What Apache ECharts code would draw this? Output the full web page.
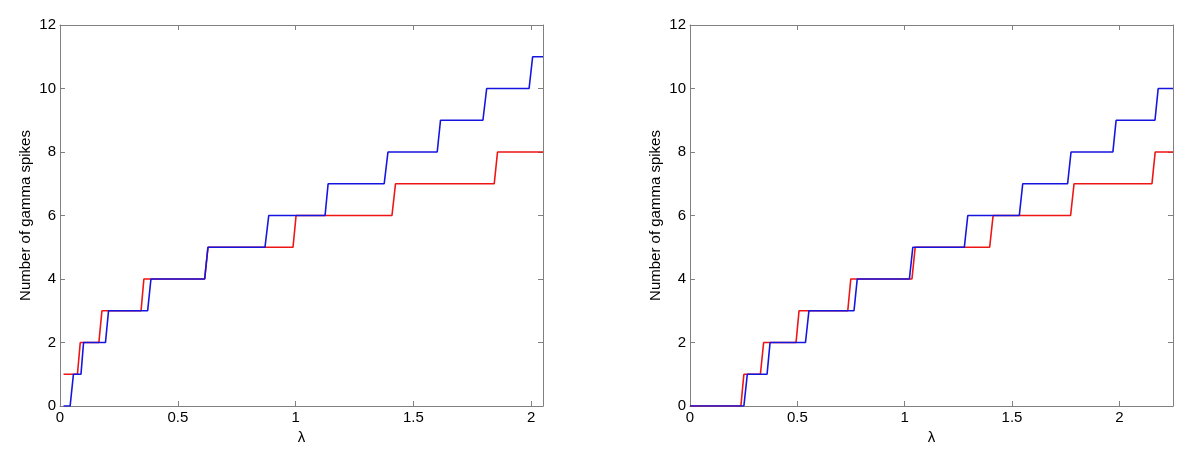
<!DOCTYPE html>
<html>
<head>
<meta charset="utf-8">
<script src="https://cdn.jsdelivr.net/npm/echarts@6/dist/echarts.min.js"></script>
<style>
html,body{margin:0;padding:0;background:#fff;}
#chart{width:1200px;height:456px;}
</style>
</head>
<body>
<div id="chart"></div>
<script>
// ---- Data (step vertices) ----
// Left panel
var leftRedX  = [0.015,0.074,0.086,0.165,0.178,0.344,0.356,0.614,0.628,0.989,1.002,1.409,1.424,1.843,1.857,2.05];
var leftRedY  = [1,1,2,2,3,3,4,4,5,5,6,6,7,7,8,8];
var leftBlueX = [0.015,0.043,0.057,0.089,0.1,0.193,0.206,0.372,0.386,0.614,0.628,0.87,0.886,1.125,1.138,1.376,1.392,1.601,1.615,1.795,1.811,1.991,2.006,2.05];
var leftBlueY = [0,0,1,1,2,2,3,3,4,4,5,5,6,6,7,7,8,8,9,9,10,10,11,11];
// Right panel
var rightRedX  = [0,0.237,0.251,0.328,0.343,0.494,0.508,0.735,0.749,1.034,1.049,1.396,1.412,1.773,1.789,2.152,2.167,2.25];
var rightRedY  = [0,0,1,1,2,2,3,3,4,4,5,5,6,6,7,7,8,8];
var rightBlueX = [0,0.251,0.267,0.359,0.373,0.538,0.554,0.764,0.779,1.022,1.038,1.278,1.294,1.534,1.55,1.759,1.775,1.97,1.985,2.166,2.181,2.25];
var rightBlueY = [0,0,1,1,2,2,3,3,4,4,5,5,6,6,7,7,8,8,9,9,10,10];
// Axis settings
var leftXMax = 2.05, rightXMax = 2.25;
var yMin = 0, yMax = 12, yStep = 2, xStep = 0.5;
var xName = 'λ';
var yName = 'Number of gamma spikes';

function pairs(xs, ys){ return xs.map(function(x,i){ return [x, ys[i]]; }); }

var FONT = 'Arial, "Liberation Sans", Helvetica, sans-serif';
var AXIS_COLOR = '#808080';
var RED = '#ee1515';
var BLUE = '#1515e0';

function xAxisDef(grid, max, mirror){
  return {
    type:'value', gridIndex:grid, min:0, max:max, interval:xStep,
    position: mirror ? 'top' : 'bottom',
    name: mirror ? '' : xName, nameLocation:'middle', nameGap:14,
    nameTextStyle:{color:'#000', fontSize:15, fontFamily:FONT},
    axisLine:{show:true, onZero:false, lineStyle:{color:AXIS_COLOR, width:1}},
    axisTick:{show:true, inside:true, length:5, lineStyle:{color:AXIS_COLOR}},
    axisLabel:{show:!mirror, color:'#000', fontSize:15, fontFamily:FONT, margin:4, showMaxLabel:false},
    splitLine:{show:false}
  };
}
function yAxisDef(grid, mirror){
  return {
    type:'value', gridIndex:grid, min:yMin, max:yMax, interval:yStep,
    position: mirror ? 'right' : 'left',
    name: mirror ? '' : yName, nameLocation:'middle', nameGap:27,
    nameTextStyle:{color:'#000', fontSize:15, fontFamily:FONT},
    axisLine:{show:true, onZero:false, lineStyle:{color:AXIS_COLOR, width:1}},
    axisTick:{show:true, inside:true, length:5, lineStyle:{color:AXIS_COLOR}},
    axisLabel:{show:!mirror, color:'#000', fontSize:15, fontFamily:FONT, margin:4},
    splitLine:{show:false}
  };
}
function lineSeries(xi, yi, data, color){
  return {
    type:'line', xAxisIndex:xi, yAxisIndex:yi, data:data,
    showSymbol:false, symbol:'none', animation:false,
    lineStyle:{color:color, width:1.6}, itemStyle:{color:color}, z:color===BLUE?3:2
  };
}

var chart = echarts.init(document.getElementById('chart'), null, {renderer:'canvas'});
chart.setOption({
  backgroundColor:'#fff',
  animation:false,
  grid:[
    {left:60, top:25, width:483, height:381},
    {left:690, top:25, width:483, height:381}
  ],
  xAxis:[
    xAxisDef(0, leftXMax, false),
    xAxisDef(1, rightXMax, false),
    xAxisDef(0, leftXMax, true),
    xAxisDef(1, rightXMax, true)
  ],
  yAxis:[
    yAxisDef(0, false),
    yAxisDef(1, false),
    yAxisDef(0, true),
    yAxisDef(1, true)
  ],
  series:[
    lineSeries(0, 0, pairs(leftRedX, leftRedY), RED),
    lineSeries(0, 0, pairs(leftBlueX, leftBlueY), BLUE),
    lineSeries(1, 1, pairs(rightRedX, rightRedY), RED),
    lineSeries(1, 1, pairs(rightBlueX, rightBlueY), BLUE)
  ]
});
</script>
</body>
</html>
